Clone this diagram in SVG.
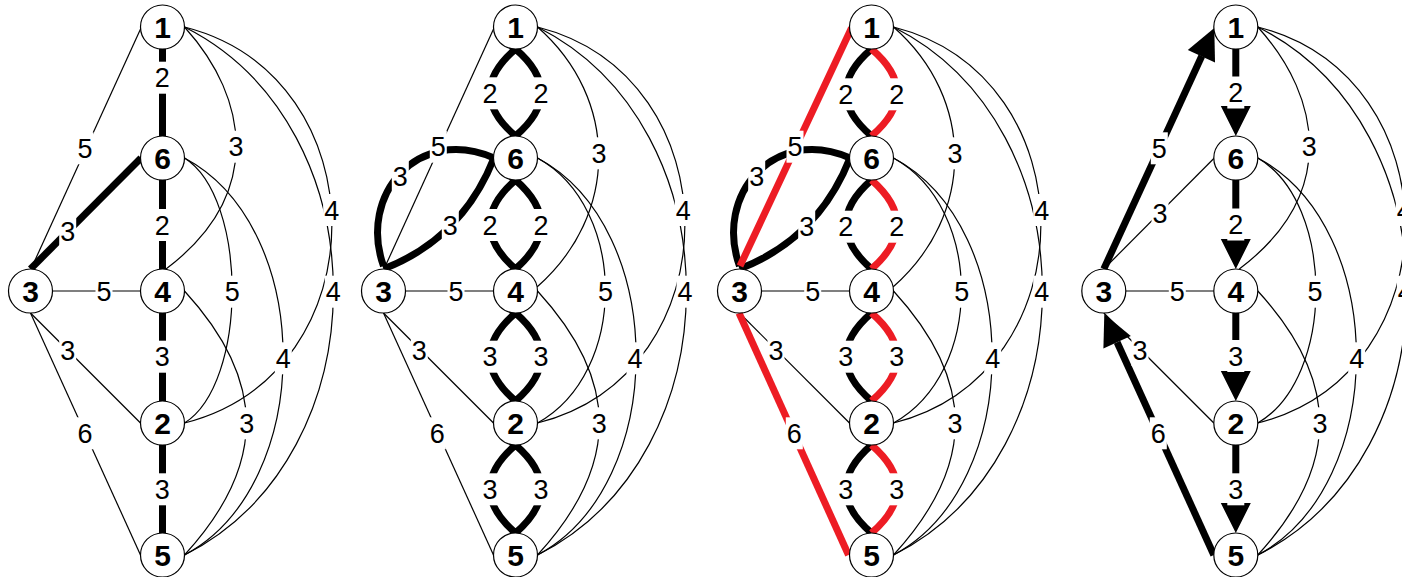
<svg xmlns="http://www.w3.org/2000/svg" width="1402" height="577" viewBox="0 0 1402 577">
<style>
.tn{fill:none;stroke:#000;stroke-width:1.2}
.tk{fill:none;stroke:#000;stroke-width:7}
.rd{fill:none;stroke:#ed1c24;stroke-width:7}
.ah{fill:#000}
.lb rect{fill:#fff}
.lb text{font-family:"Liberation Sans",Arial,sans-serif;font-size:27px;text-anchor:middle;fill:#000}
.nd circle{fill:#fff;stroke:#000;stroke-width:1.2}
.nd text{font-family:"Liberation Sans",Arial,sans-serif;font-weight:bold;font-size:30px;text-anchor:middle;fill:#000}
</style>
<rect width="1402" height="577" fill="#fff"/>

<!-- PANEL 1 -->
<g id="panel1">
<g id="p1-connectors">
<path class="tn" d="M141,28 L31,269"/>
<path class="tn" d="M52.5,291 H140.5"/>
<path class="tn" d="M30.5,313 L140.5,423"/>
<path class="tn" d="M30.5,313 L140.5,555"/>
<path class="tn" d="M184.5,27 C250,99.5 263,196 166,269"/>
<path class="tn" d="M184.5,27 C381,77 381,373 184.5,423"/>
<path class="tn" d="M184.5,27 C383,127 383,455 184.5,555"/>
<path class="tn" d="M184.5,158 C248,198 248,383 184.5,423"/>
<path class="tn" d="M184.5,158 C316,228 316,485 184.5,555"/>
<path class="tn" d="M184.5,291 C267,381 267,465 184.5,555"/>
<path class="tk" d="M162.5,49 V136 M162.5,180 V269 M162.5,313 V401 M162.5,445 V533"/>
<path class="tk" d="M30.5,269 L141,158"/>
<g class="lb">
<rect x="153.8" y="61.7" width="17" height="32"/><text x="162.3" y="87.4">2</text>
<rect x="76.5" y="132.3" width="17" height="32"/><text x="85" y="158">5</text>
<rect x="227.5" y="130.7" width="17" height="32"/><text x="236" y="156.4">3</text>
<rect x="323.2" y="194" width="17" height="32"/><text x="331.7" y="219.7">4</text>
<rect x="59.2" y="215.7" width="17" height="32"/><text x="67.7" y="241.4">3</text>
<rect x="153.8" y="209" width="17" height="32"/><text x="162.3" y="234.7">2</text>
<rect x="95.5" y="275.7" width="17" height="32"/><text x="104" y="301.4">5</text>
<rect x="223.8" y="275.7" width="17" height="32"/><text x="232.3" y="301.4">5</text>
<rect x="324.8" y="275.7" width="17" height="32"/><text x="333.3" y="301.4">4</text>
<rect x="59.2" y="334" width="17" height="32"/><text x="67.7" y="359.7">3</text>
<rect x="153.8" y="340.7" width="17" height="32"/><text x="162.3" y="366.4">3</text>
<rect x="274.8" y="342.3" width="17" height="32"/><text x="283.3" y="368">4</text>
<rect x="76.5" y="417.3" width="17" height="32"/><text x="85" y="443">6</text>
<rect x="238.2" y="407.3" width="17" height="32"/><text x="246.7" y="433">3</text>
<rect x="153.8" y="473.3" width="17" height="32"/><text x="162.3" y="499">3</text>
</g>
</g>
<g id="p1-n1" class="nd"><circle cx="162.5" cy="27" r="22"/><text x="162.5" y="38">1</text></g>
<g id="p1-n6" class="nd"><circle cx="162.5" cy="158" r="22"/><text x="162.5" y="169">6</text></g>
<g id="p1-n4" class="nd"><circle cx="162.5" cy="291" r="22"/><text x="162.5" y="302">4</text></g>
<g id="p1-n2" class="nd"><circle cx="162.5" cy="423" r="22"/><text x="162.5" y="434">2</text></g>
<g id="p1-n5" class="nd"><circle cx="162.5" cy="555" r="22"/><text x="162.5" y="566">5</text></g>
<g id="p1-n3" class="nd"><circle cx="30.5" cy="291" r="22"/><text x="30.5" y="302">3</text></g>
</g>

<!-- PANEL 2 -->
<g id="panel2" transform="translate(353,0)">
<g id="p2-connectors">
<path class="tn" d="M141,28 L31,269"/>
<path class="tn" d="M52.5,291 H140.5"/>
<path class="tn" d="M30.5,313 L140.5,423"/>
<path class="tn" d="M30.5,313 L140.5,555"/>
<path class="tn" d="M184.5,27 C266.5,99 266,215 184,287"/>
<path class="tn" d="M184.5,27 C381,77 381,373 184.5,423"/>
<path class="tn" d="M184.5,27 C383,127 383,455 184.5,555"/>
<path class="tn" d="M184.5,158 C275,208 275,373 184.5,423"/>
<path class="tn" d="M184.5,158 C316,228 316,485 184.5,555"/>
<path class="tn" d="M184.5,291 C267,381 267,465 184.5,555"/>
<path class="tk" d="M162.5,49 Q111.5,92.5 162.5,136 M162.5,49 Q213.5,92.5 162.5,136"/>
<path class="tk" d="M162.5,180 Q111.5,224.5 162.5,269 M162.5,180 Q213.5,224.5 162.5,269"/>
<path class="tk" d="M162.5,313 Q111.5,357 162.5,401 M162.5,313 Q213.5,357 162.5,401"/>
<path class="tk" d="M162.5,445 Q111.5,489 162.5,533 M162.5,445 Q213.5,489 162.5,533"/>
<path class="tk" d="M30.5,266 C5,195 65,125 141,158"/>
<path class="tk" d="M30.5,269 Q109.25,238.5 141,158"/>
<g class="lb">
<rect x="128.5" y="77.3" width="17" height="32"/><text x="137" y="103">2</text>
<rect x="179.5" y="77.3" width="17" height="32"/><text x="188" y="103">2</text>
<rect x="76.8" y="130.7" width="17" height="32"/><text x="85.3" y="156.4">5</text>
<rect x="237.5" y="137.3" width="17" height="32"/><text x="246" y="163">3</text>
<rect x="321.8" y="194" width="17" height="32"/><text x="330.3" y="219.7">4</text>
<rect x="38.8" y="160.7" width="17" height="32"/><text x="47.3" y="186.4">3</text>
<rect x="88.8" y="209" width="17" height="32"/><text x="97.3" y="234.7">3</text>
<rect x="128.5" y="209" width="17" height="32"/><text x="137" y="234.7">2</text>
<rect x="179.5" y="209" width="17" height="32"/><text x="188" y="234.7">2</text>
<rect x="94.5" y="275.7" width="17" height="32"/><text x="103" y="301.4">5</text>
<rect x="244" y="275.7" width="17" height="32"/><text x="252.5" y="301.4">5</text>
<rect x="323.5" y="275.7" width="17" height="32"/><text x="332" y="301.4">4</text>
<rect x="57.8" y="334" width="17" height="32"/><text x="66.3" y="359.7">3</text>
<rect x="128.5" y="340.7" width="17" height="32"/><text x="137" y="366.4">3</text>
<rect x="179.5" y="340.7" width="17" height="32"/><text x="188" y="366.4">3</text>
<rect x="273.5" y="342.3" width="17" height="32"/><text x="282" y="368">4</text>
<rect x="237.8" y="407.3" width="17" height="32"/><text x="246.3" y="433">3</text>
<rect x="75.8" y="417.3" width="17" height="32"/><text x="84.3" y="443">6</text>
<rect x="128.5" y="473.3" width="17" height="32"/><text x="137" y="499">3</text>
<rect x="179.5" y="473.3" width="17" height="32"/><text x="188" y="499">3</text>
</g>
</g>
<g id="p2-n1" class="nd"><circle cx="162.5" cy="27" r="22"/><text x="162.5" y="38">1</text></g>
<g id="p2-n6" class="nd"><circle cx="162.5" cy="158" r="22"/><text x="162.5" y="169">6</text></g>
<g id="p2-n4" class="nd"><circle cx="162.5" cy="291" r="22"/><text x="162.5" y="302">4</text></g>
<g id="p2-n2" class="nd"><circle cx="162.5" cy="423" r="22"/><text x="162.5" y="434">2</text></g>
<g id="p2-n5" class="nd"><circle cx="162.5" cy="555" r="22"/><text x="162.5" y="566">5</text></g>
<g id="p2-n3" class="nd"><circle cx="30.5" cy="291" r="22"/><text x="30.5" y="302">3</text></g>
</g>

<!-- PANEL 3 -->
<g id="panel3" transform="translate(709,0)">
<g id="p3-connectors">
<path class="tn" d="M52.5,291 H140.5"/>
<path class="tn" d="M30.5,313 L140.5,423"/>
<path class="tn" d="M184.5,27 C266.5,99 266,215 184,287"/>
<path class="tn" d="M184.5,27 C381,77 381,373 184.5,423"/>
<path class="tn" d="M184.5,27 C383,127 383,455 184.5,555"/>
<path class="tn" d="M184.5,158 C275,208 275,373 184.5,423"/>
<path class="tn" d="M184.5,158 C316,228 316,485 184.5,555"/>
<path class="tn" d="M184.5,291 C267,381 267,465 184.5,555"/>
<path class="tk" d="M162.5,49 Q111.5,92.5 162.5,136 M162.5,180 Q111.5,224.5 162.5,269 M162.5,313 Q111.5,357 162.5,401 M162.5,445 Q111.5,489 162.5,533"/>
<path class="rd" d="M162.5,49 Q213.5,92.5 162.5,136 M162.5,180 Q213.5,224.5 162.5,269 M162.5,313 Q213.5,357 162.5,401 M162.5,445 Q213.5,489 162.5,533"/>
<path class="tk" d="M30.5,266 C5,195 65,125 141,158"/>
<path class="tk" d="M30.5,269 Q109.25,238.5 141,158"/>
<path class="rd" d="M142.5,28 L31,266"/>
<path class="rd" d="M30,313 L139.5,555"/>
<g class="lb">
<rect x="128.2" y="78.3" width="17" height="32"/><text x="136.7" y="104">2</text>
<rect x="179.2" y="78.3" width="17" height="32"/><text x="187.7" y="104">2</text>
<rect x="77.5" y="130.7" width="17" height="32"/><text x="86" y="156.4">5</text>
<rect x="237.5" y="137.3" width="17" height="32"/><text x="246" y="163">3</text>
<rect x="324.2" y="194" width="17" height="32"/><text x="332.7" y="219.7">4</text>
<rect x="39.2" y="160.7" width="17" height="32"/><text x="47.7" y="186.4">3</text>
<rect x="89.2" y="210.7" width="17" height="32"/><text x="97.7" y="236.4">3</text>
<rect x="128.2" y="210.7" width="17" height="32"/><text x="136.7" y="236.4">2</text>
<rect x="179.2" y="210.7" width="17" height="32"/><text x="187.7" y="236.4">2</text>
<rect x="95.2" y="275.7" width="17" height="32"/><text x="103.7" y="301.4">5</text>
<rect x="244.2" y="275.7" width="17" height="32"/><text x="252.7" y="301.4">5</text>
<rect x="324.2" y="275.7" width="17" height="32"/><text x="332.7" y="301.4">4</text>
<rect x="58.5" y="334" width="17" height="32"/><text x="67" y="359.7">3</text>
<rect x="128.2" y="340.7" width="17" height="32"/><text x="136.7" y="366.4">3</text>
<rect x="179.2" y="340.7" width="17" height="32"/><text x="187.7" y="366.4">3</text>
<rect x="275.2" y="342.3" width="17" height="32"/><text x="283.7" y="368">4</text>
<rect x="237.5" y="407.3" width="17" height="32"/><text x="246" y="433">3</text>
<rect x="76.8" y="417.3" width="17" height="32"/><text x="85.3" y="443">6</text>
<rect x="128.2" y="473.3" width="17" height="32"/><text x="136.7" y="499">3</text>
<rect x="179.2" y="473.3" width="17" height="32"/><text x="187.7" y="499">3</text>
</g>
</g>
<g id="p3-n1" class="nd"><circle cx="162.5" cy="27" r="22"/><text x="162.5" y="38">1</text></g>
<g id="p3-n6" class="nd"><circle cx="162.5" cy="158" r="22"/><text x="162.5" y="169">6</text></g>
<g id="p3-n4" class="nd"><circle cx="162.5" cy="291" r="22"/><text x="162.5" y="302">4</text></g>
<g id="p3-n2" class="nd"><circle cx="162.5" cy="423" r="22"/><text x="162.5" y="434">2</text></g>
<g id="p3-n5" class="nd"><circle cx="162.5" cy="555" r="22"/><text x="162.5" y="566">5</text></g>
<g id="p3-n3" class="nd"><circle cx="30.5" cy="291" r="22"/><text x="30.5" y="302">3</text></g>
</g>

<!-- PANEL 4 -->
<g id="panel4" transform="translate(1073.3,0)">
<g id="p4-connectors">
<path class="tn" d="M30.5,269 L141,158"/>
<path class="tn" d="M52.5,291 H140.5"/>
<path class="tn" d="M30.5,313 L140.5,423"/>
<path class="tn" d="M184.5,27 C250,99.5 263,196 166,269"/>
<path class="tn" d="M184.5,27 C381,77 381,373 184.5,423"/>
<path class="tn" d="M184.5,27 C383,127 383,455 184.5,555"/>
<path class="tn" d="M184.5,158 C262,203 262,378 184.5,423"/>
<path class="tn" d="M184.5,158 C316,228 316,485 184.5,555"/>
<path class="tn" d="M184.5,291 C267,381 267,465 184.5,555"/>
<path class="tk" d="M162.5,49 V107 M162.5,180 V240 M162.5,313 V372 M162.5,445 V504"/>
<path class="ah" d="M147.5,106 H177.5 L162.5,136 Z M147.5,239 H177.5 L162.5,269 Z M147.5,371 H177.5 L162.5,401 Z M147.5,503 H177.5 L162.5,533 Z"/>
<path class="tk" d="M30.5,269 L128.5,56"/>
<path class="ah" d="M141.7,62.4 L114.5,49.9 L141,28 Z"/>
<path class="tk" d="M140.5,555 L43.8,342.2"/>
<path class="ah" d="M57.5,336 L30.1,348.4 L31,314 Z"/>
<g class="lb">
<rect x="154" y="76.5" width="17" height="32"/><text x="162.5" y="102.2">2</text>
<rect x="77.5" y="132.3" width="17" height="32"/><text x="86" y="158">5</text>
<rect x="227.5" y="130.7" width="17" height="32"/><text x="236" y="156.4">3</text>
<rect x="322.5" y="194" width="17" height="32"/><text x="331" y="219.7">4</text>
<rect x="78.2" y="197.3" width="17" height="32"/><text x="86.7" y="223">3</text>
<rect x="154" y="208.5" width="17" height="32"/><text x="162.5" y="234.2">2</text>
<rect x="95.5" y="275.7" width="17" height="32"/><text x="104" y="301.4">5</text>
<rect x="233.2" y="275.7" width="17" height="32"/><text x="241.7" y="301.4">5</text>
<rect x="323.5" y="275.7" width="17" height="32"/><text x="332" y="301.4">4</text>
<rect x="58.2" y="334" width="17" height="32"/><text x="66.7" y="359.7">3</text>
<rect x="154" y="340" width="17" height="32"/><text x="162.5" y="365.7">3</text>
<rect x="274.9" y="342.3" width="17" height="32"/><text x="283.4" y="368">4</text>
<rect x="238.2" y="407.3" width="17" height="32"/><text x="246.7" y="433">3</text>
<rect x="76.5" y="417.3" width="17" height="32"/><text x="85" y="443">6</text>
<rect x="154" y="473.3" width="17" height="32"/><text x="162.5" y="499">3</text>
</g>
</g>
<g id="p4-n1" class="nd"><circle cx="162.5" cy="27" r="22"/><text x="162.5" y="38">1</text></g>
<g id="p4-n6" class="nd"><circle cx="162.5" cy="158" r="22"/><text x="162.5" y="169">6</text></g>
<g id="p4-n4" class="nd"><circle cx="162.5" cy="291" r="22"/><text x="162.5" y="302">4</text></g>
<g id="p4-n2" class="nd"><circle cx="162.5" cy="423" r="22"/><text x="162.5" y="434">2</text></g>
<g id="p4-n5" class="nd"><circle cx="162.5" cy="555" r="22"/><text x="162.5" y="566">5</text></g>
<g id="p4-n3" class="nd"><circle cx="30.5" cy="291" r="22"/><text x="30.5" y="302">3</text></g>
</g>
</svg>
